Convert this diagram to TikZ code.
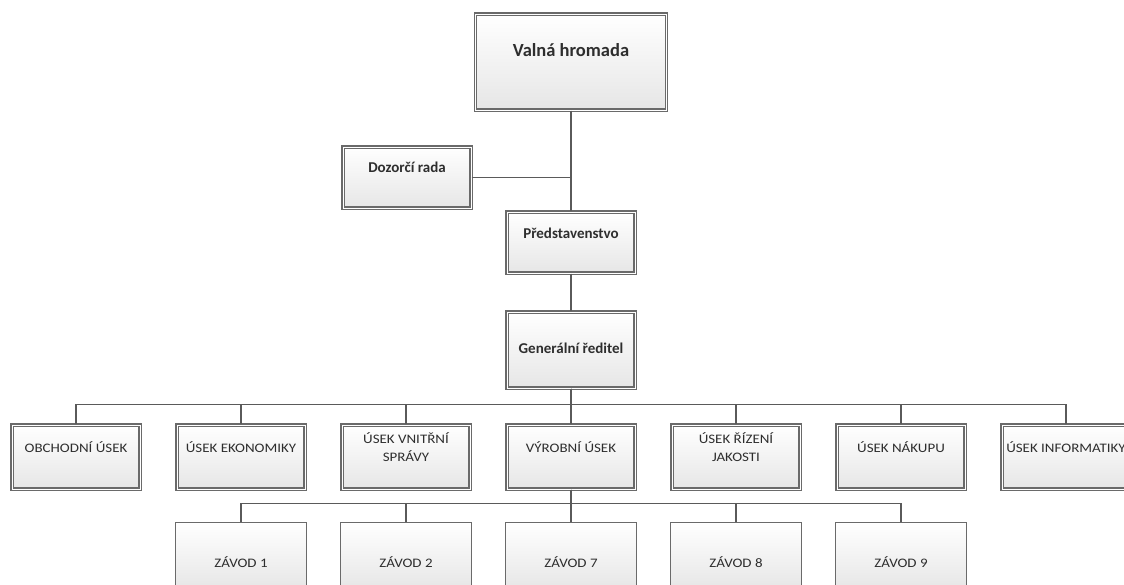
\documentclass[tikz,border=0pt]{standalone}
\usepackage{fontspec}
\setmainfont{Carlito}
\newfontfamily\unitfont[FakeStretch=1.15]{Carlito}
\usepackage{tikz}
\definecolor{linegray}{HTML}{5A5A5A}
\definecolor{framegray}{HTML}{6A6A6A}
\definecolor{fillgray}{HTML}{E6E6E6}
\definecolor{textgray}{HTML}{2E2E2E}

\tikzset{
  frame/.style={draw=framegray, line width=1.3pt, double=white, double distance=0.8pt,
    top color=white, bottom color=fillgray, inner sep=0pt, align=center, text=textgray},
  boss/.style={frame, minimum width=128pt, font=\bfseries\fontsize{15pt}{18pt}\selectfont, text height=10pt},
  unit/.style={frame, minimum width=128pt, minimum height=64pt,
    font=\unitfont\fontsize{13pt}{18pt}\selectfont, text height=10pt, text depth=20pt},
  twoline/.style={unit, text depth=2pt},
  plant/.style={draw=framegray, line width=1.2pt, top color=white, bottom color=fillgray,
    inner sep=0pt, minimum width=131pt, minimum height=67pt, text=textgray,
    font=\unitfont\fontsize{13pt}{19pt}\selectfont, text height=22pt, text depth=0pt},
  link/.style={draw=linegray, line width=1.6pt},
}

\begin{document}
\begin{tikzpicture}[x=1pt, y=-1pt]
      \useasboundingbox (0,0) rectangle (1124,584);
      \fill[white] (0,0) rectangle (1124,584);
      \clip (0,0) rectangle (1124,584);

      % top of the company
      \node[boss, minimum width=191pt, minimum height=96pt, font=\bfseries\fontsize{18.5pt}{22pt}\selectfont,
        text height=13pt, text depth=25pt] (vh) at (571,62) {Valná hromada};
      \node[boss, minimum height=61pt, text depth=21pt] (dr) at (407,177.5) {Dozorčí rada};
      \node[boss, minimum height=61pt, text depth=19pt] (ps) at (571,242.5) {Představenstvo};
      \node[boss, minimum height=76pt, text depth=4pt] (gr) at (571,350) {Generální ředitel};

      % departments
      \node[unit] (u1) at (76,457) {OBCHODNÍ ÚSEK};
      \node[unit] (u2) at (241,457) {ÚSEK EKONOMIKY};
      \node[twoline] (u3) at (406,457) {ÚSEK VNITŘNÍ\\SPRÁVY};
      \node[unit] (u4) at (571,457) {VÝROBNÍ ÚSEK};
      \node[twoline] (u5) at (736,457) {ÚSEK ŘÍZENÍ\\JAKOSTI};
      \node[unit] (u6) at (901,457) {ÚSEK NÁKUPU};
      \node[unit] (u7) at (1066,457) {ÚSEK INFORMATIKY};

      % plants
      \node[plant] (p1) at (241,556) {ZÁVOD 1};
      \node[plant] (p2) at (406,556) {ZÁVOD 2};
      \node[plant] (p3) at (571,556) {ZÁVOD 7};
      \node[plant] (p4) at (736,556) {ZÁVOD 8};
      \node[plant] (p5) at (901,556) {ZÁVOD 9};

      \draw[link] (vh) -- (ps);
      \draw[link] (dr) -- (dr -| ps);
      \draw[link] (ps) -- (gr);
      \foreach \i in {1,...,7} {
        \draw[link] (gr.south) -- ++(0,16) -| (u\i.north);
      }
      \foreach \i in {1,...,5} {
        \draw[link] (u4.south) -- ++(0,14) -| (p\i.north);
      }
    \end{tikzpicture}
\end{document}
